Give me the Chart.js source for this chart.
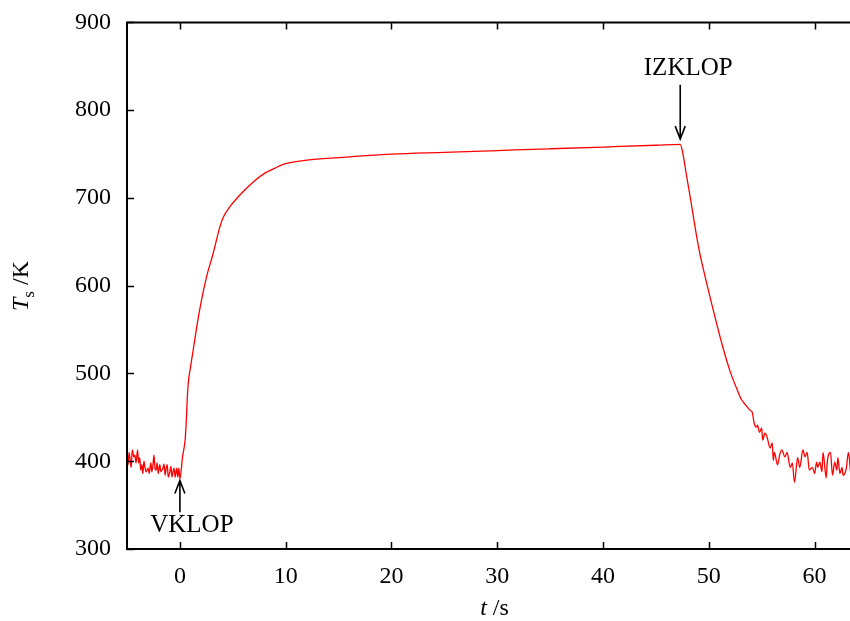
<!DOCTYPE html>
<html>
<head>
<meta charset="utf-8">
<script src="https://cdn.jsdelivr.net/npm/chart.js@4"></script>
<style>
html, body { margin: 0; padding: 0; background: #fff; overflow: hidden; }
#wrap { width: 850px; height: 621px; position: relative; }
</style>
</head>
<body>
<div id="wrap"><canvas id="chart"></canvas></div>
<script>
// time (s) and surface temperature (K)
const times = [
  -5.0, -4.9, -4.8, -4.7, -4.6, -4.5, -4.35, -4.25, -4.15, -4.0, -3.9, -3.8, -3.7, -3.6, -3.5, -3.4, -3.3, -3.2,
  -3.0, -2.9, -2.75, -2.65, -2.55, -2.45, -2.35, -2.25, -2.15, -2.05, -1.9, -1.8, -1.7, -1.6, -1.5, -1.4, -1.3, -1.2, -1.1, -0.95,
  -0.85, -0.75, -0.65, -0.55, -0.45, -0.3, -0.2, -0.1, 0.0,
  0.25, 0.5, 0.6, 0.7, 0.8, 1.0, 1.26, 1.58, 1.89, 2.52, 3.15, 3.78, 4.1, 4.73, 5.5, 6.3, 7.1, 8.0, 9.0,
  10, 12, 15, 20, 25, 30, 35, 40, 45, 47.3,
  47.5, 47.7, 48.0, 48.3, 48.7, 49.1, 49.6, 50.2, 50.8, 51.4, 52.0, 52.6, 53.1, 53.5, 53.9, 54.1, 54.3, 54.5, 54.6, 54.8,
  55.0, 55.1, 55.3, 55.5, 55.8, 56.0, 56.1, 56.2, 56.5, 56.7, 56.9, 57.2, 57.4, 57.7, 57.9, 58.1, 58.4, 58.6,
  58.9, 59.1, 59.3, 59.5, 59.8, 60.0, 60.2, 60.3, 60.5, 60.7, 60.8, 61.1, 61.2, 61.5, 61.7, 61.9,
  62.1, 62.2, 62.4, 62.6, 62.7, 63.0, 63.2, 63.4
];
const temps = [
  400, 396, 410, 401, 393, 413, 405, 407, 398, 413, 398, 404, 390, 396, 386, 400, 393, 388,
  392, 386, 398, 388, 395, 407, 392, 390, 398, 386, 396, 388, 390, 392, 397, 384, 392, 396, 382, 388,
  394, 382, 388, 392, 382, 392, 382, 392, 380,
  405, 425, 445, 472, 490, 507, 527, 552, 574, 610, 637, 667, 678, 690, 701, 711, 720, 728, 734,
  739, 743, 746, 750, 752, 754, 756, 758, 760, 761,
  754, 740, 718, 697, 667, 640, 613, 583, 554, 527, 503, 484, 470, 464, 458, 456, 443, 439, 441, 433,
  438, 424, 432, 428, 415, 421, 401, 410, 396, 407, 413, 405, 410, 393, 398, 376, 404, 393,
  413, 405, 410, 390, 393, 386, 399, 393, 399, 388, 410, 381, 399, 410, 384, 399,
  390, 404, 386, 393, 384, 392, 410, 388
];
const xTicks = [0, 10, 20, 30, 40, 50, 60];
const yTicks = [300, 400, 500, 600, 700, 800, 900];

const serif = '"Liberation Serif", "DejaVu Serif", serif';

// annotations: label, time, arrow tip / tail and text position (K)
const notes = [
  { label: 'VKLOP', t: 0, tip: 378, tail: 342, textT: 327, dx: 12 },
  { label: 'IZKLOP', t: 47.3, tip: 767, tail: 829, textT: 848, dx: 8 }
];

const framePlugin = {
  id: 'frame',
  afterDraw(chart) {
    const { ctx, chartArea: a, scales: { x, y } } = chart;
    ctx.save();
    ctx.strokeStyle = '#000';
    ctx.lineWidth = 2;
    ctx.beginPath();
    ctx.moveTo(a.right + 5, a.top);
    ctx.lineTo(a.left, a.top);
    ctx.lineTo(a.left, a.bottom);
    ctx.lineTo(a.right + 5, a.bottom);
    ctx.stroke();

    // inward ticks
    ctx.lineWidth = 1.5;
    ctx.beginPath();
    xTicks.forEach(v => {
      const px = Math.round(x.getPixelForValue(v)) + 0.5;
      ctx.moveTo(px, a.top); ctx.lineTo(px, a.top + 7);
      ctx.moveTo(px, a.bottom); ctx.lineTo(px, a.bottom - 7);
    });
    yTicks.forEach(v => {
      const py = Math.round(y.getPixelForValue(v)) + 0.5;
      ctx.moveTo(a.left, py); ctx.lineTo(a.left + 7, py);
    });
    ctx.stroke();

    // arrows + labels
    ctx.fillStyle = '#000';
    ctx.font = '25px ' + serif;
    ctx.textAlign = 'center';
    ctx.textBaseline = 'middle';
    notes.forEach(n => {
      const px = x.getPixelForValue(n.t);
      const tip = y.getPixelForValue(n.tip);
      const tail = y.getPixelForValue(n.tail);
      const dir = Math.sign(tip - tail);
      ctx.lineWidth = 1.6;
      ctx.beginPath();
      ctx.moveTo(px, tail); ctx.lineTo(px, tip);
      ctx.moveTo(px - 5, tip - dir * 13); ctx.lineTo(px, tip); ctx.lineTo(px + 5, tip - dir * 13);
      ctx.stroke();
      ctx.fillText(n.label, px + n.dx, y.getPixelForValue(n.textT));
    });

    // axis titles
    ctx.textAlign = 'left';
    ctx.textBaseline = 'alphabetic';
    const xt = [['t', 'italic 24px '], [' /s', '24px ']];
    let w = 0;
    xt.forEach(p => { ctx.font = p[1] + serif; w += ctx.measureText(p[0]).width; });
    let cx = (a.left + x.getPixelForValue(63.35)) / 2 - w / 2 + 6;
    xt.forEach(p => { ctx.font = p[1] + serif; ctx.fillText(p[0], cx, 615); cx += ctx.measureText(p[0]).width; });

    ctx.translate(28, 286);
    ctx.rotate(-Math.PI / 2);
    const yt = [['T', 'italic 24px ', 0], ['s', '17px ', 6], [' /K', '24px ', 0]];
    w = 0;
    yt.forEach(p => { ctx.font = p[1] + serif; w += ctx.measureText(p[0]).width; });
    cx = -w / 2;
    yt.forEach(p => { ctx.font = p[1] + serif; ctx.fillText(p[0], cx, p[2]); cx += ctx.measureText(p[0]).width; });
    ctx.restore();
  }
};

new Chart(document.getElementById('chart'), {
  type: 'line',
  data: {
    datasets: [{
      data: times.map((t, i) => ({ x: t, y: temps[i] })),
      borderColor: '#ff0000',
      borderWidth: 1.3,
      pointRadius: 0,
      fill: false,
      cubicInterpolationMode: 'monotone'
    }]
  },
  options: {
    responsive: true,
    maintainAspectRatio: false,
    animation: false,
    layout: { padding: { top: 14, right: 0, left: 0, bottom: 0 } },
    plugins: { legend: { display: false }, tooltip: { enabled: false } },
    scales: {
      x: {
        type: 'linear',
        min: -5,
        max: 63.35,
        grid: { display: false },
        border: { display: false },
        afterBuildTicks: s => { s.ticks = xTicks.map(v => ({ value: v })); },
        afterFit: s => { s.height = 72; },
        ticks: { color: '#000', padding: 5, font: { family: serif, size: 24 } }
      },
      y: {
        min: 300,
        max: 900,
        grid: { display: false },
        border: { display: false },
        afterBuildTicks: s => { s.ticks = yTicks.map(v => ({ value: v })); },
        afterFit: s => { s.width = 127; },
        ticks: { color: '#000', padding: 8, font: { family: serif, size: 24 } }
      }
    }
  },
  plugins: [framePlugin]
});
</script>
</body>
</html>
